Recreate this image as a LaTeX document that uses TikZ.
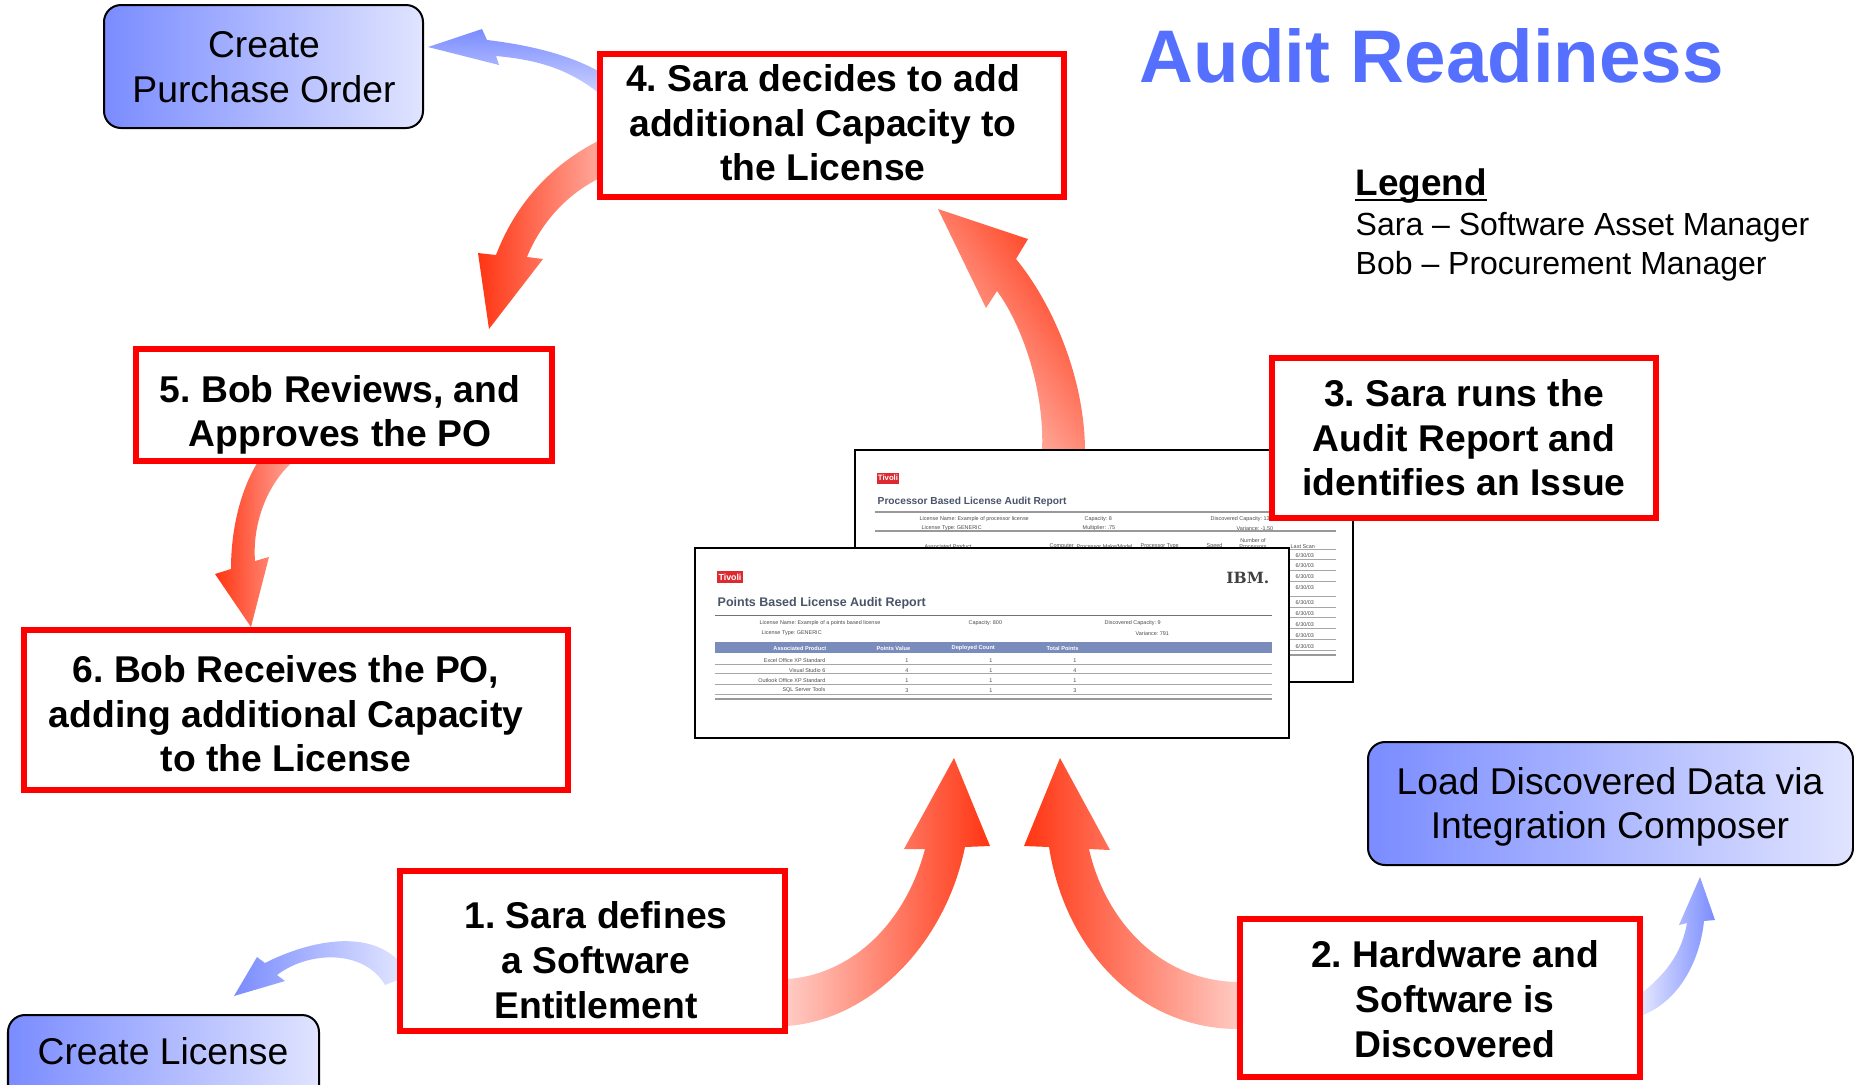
\documentclass[tikz,border=0pt]{standalone}
\usepackage{fontspec}
\setmainfont{Liberation Sans}
\newfontfamily\ibmfont{DejaVu Serif}
\frenchspacing
\definecolor{redhot}{HTML}{FF3512}
\definecolor{redpale}{HTML}{FFA89C}
\definecolor{bluehot}{HTML}{7A8CFF}
\definecolor{bluepale}{HTML}{E0E4FF}
\definecolor{titleblue}{HTML}{5570FF}
\definecolor{reportink}{HTML}{4A5468}
\definecolor{reportbar}{HTML}{7A8CBC}
\definecolor{tivolired}{HTML}{DD2A30}
\tikzset{
	stepbox/.style={draw=red, fill=white, line width=0.55mm},
	steptext/.style={align=center, font=\fontsize{10.6}{12.7}\selectfont\bfseries},
	toolbox/.style={draw=black, line width=0.2mm, rounded corners=0.17cm, left color=bluehot, right color=bluepale},
	tooltext/.style={align=center, font=\fontsize{10.6}{12.7}\selectfont},
	reportbox/.style={draw=black, fill=white, line width=0.22mm},
	reportrule/.style={draw=black!35, line width=0.07mm},
	reportfat/.style={draw=black!40, line width=0.16mm},
	tiny/.style={inner sep=0pt, yshift=-0.015cm, text=black!70, font=\fontsize{1.55}{1.9}\selectfont},
	tinyhead/.style={inner sep=0pt, yshift=-0.015cm, text=white, font=\fontsize{1.6}{2}\selectfont\bfseries},
}

\begin{document}
\begin{tikzpicture}[x=0.01cm, y=-0.01cm]
		%%%%% START %%%%%
		\useasboundingbox (0, 0) rectangle (1854, 1084);
		
		%% side arrows (blue)
		\shade[bottom color=bluepale!80!bluehot, top color=bluehot] (428, 47) -- (482, 29) -- (487, 40) .. controls (530, 45) and (570, 55) .. (600, 72) -- (600, 94) .. controls (570, 70) and (540, 60) .. (496, 56) -- (499, 65) -- cycle;
		\shade[left color=bluepale, right color=bluehot] (1700, 877) -- (1715, 920) -- (1704, 921) .. controls (1700, 960) and (1680, 1000) .. (1643, 1015) -- (1643, 992) .. controls (1670, 970) and (1682, 950) .. (1687, 923) -- (1679, 925) -- cycle;
		\shade[left color=bluehot, right color=bluepale] (234, 996) -- (257, 957) -- (265, 963) .. controls (300, 945) and (365, 925) .. (400, 962) -- (400, 979) -- (385, 985) .. controls (365, 950) and (310, 950) .. (277, 975) -- (285, 981) -- cycle;
		
		%% main arrows (red)
		\shade[left color=redhot, right color=redpale] (489, 329) -- (478, 253) -- (496, 255) .. controls (515, 205) and (550, 165) .. (600, 140) -- (600, 178) .. controls (565, 195) and (540, 225) .. (527, 257) -- (543, 259) -- cycle;
		\shade[left color=redhot, right color=redpale] (251, 627) -- (215, 574) -- (231, 569) .. controls (231, 530) and (240, 490) .. (259, 460) -- (295, 460) .. controls (270, 480) and (252, 520) .. (255, 561) -- (269, 557) -- cycle;
		\shade[left color=redpale!55!white, right color=redhot, shading angle=125] (938, 209) -- (1028, 239) -- (1016, 259) .. controls (1050, 300) and (1085, 375) .. (1085, 452) -- (1042, 452) .. controls (1045, 390) and (1022, 325) .. (997, 291) -- (986, 308) -- cycle;
		\shade[left color=redpale!60!white, right color=redhot] (954, 758) -- (990, 846) -- (965, 847) .. controls (945, 945) and (870, 1020) .. (787, 1026) -- (787, 979) .. controls (850, 975) and (905, 925) .. (925, 849) -- (904, 849) -- cycle;
		\shade[left color=redhot, right color=redpale!60!white] (1060, 758) -- (1024, 846) -- (1049, 847) .. controls (1065, 950) and (1140, 1030) .. (1240, 1029) -- (1240, 982) .. controls (1160, 982) and (1105, 920) .. (1089, 849) -- (1110, 850) -- cycle;
		
		%% report at the back
		\draw[reportbox] (855, 450) rectangle (1353, 682);
		\node[fill=tivolired, text=white, inner sep=0pt, minimum width=0.22cm, minimum height=0.11cm, font=\fontsize{2.2}{3}\selectfont\bfseries] (tivoliback) at (888, 478) {Tivoli};
		\node[anchor=west, inner sep=0pt, text=reportink, font=\fontsize{2.9}{4}\selectfont\bfseries] (titleback) at (877, 502) {Processor Based License Audit Report};
		\draw[reportfat] (875, 512) -- (1336, 512);
		\node[tiny, anchor=west] (nameback) at (919, 518) {License Name: Example of processor license};
		\node[tiny, anchor=west] (capback) at (1084, 518) {Capacity: 8};
		\node[tiny, anchor=west] (discback) at (1210, 518) {Discovered Capacity: 13.5};
		\node[tiny, anchor=west] (typeback) at (921, 527) {License Type: GENERIC};
		\node[tiny, anchor=west] (multback) at (1082, 527) {Multiplier: .75};
		\node[tiny, anchor=west] (varback) at (1236, 527) {Variance: -1.50};
		\draw[reportfat] (875, 531) -- (1336, 531);
		\node[tiny, anchor=west] (prodback) at (924, 545) {Associated Product};
		\node[tiny, anchor=west] (compback) at (1049, 545) {Computer};
		\node[tiny, anchor=west] (makeback) at (1076, 545) {Processor Make/Model};
		\node[tiny, anchor=west] (procback) at (1140, 545) {Processor Type};
		\node[tiny, anchor=west] (speedback) at (1206, 545) {Speed};
		\node[tiny, align=center] (numback) at (1253, 542) {Number of\\Processors};
		\node[tiny, anchor=west] (scanback) at (1290, 545) {Last Scan};
		\draw[reportrule] (1289, 549) -- (1336, 549);
		\node[tiny, anchor=west] (datea) at (1295, 554) {6/30/03};
		\draw[reportrule] (1289, 559) -- (1336, 559);
		\node[tiny, anchor=west] (dateb) at (1295, 564) {6/30/03};
		\draw[reportrule] (1289, 570) -- (1336, 570);
		\node[tiny, anchor=west] (datec) at (1295, 575) {6/30/03};
		\draw[reportrule] (1289, 581) -- (1336, 581);
		\node[tiny, anchor=west] (dated) at (1295, 586) {6/30/03};
		\draw[reportrule] (1289, 596) -- (1336, 596);
		\node[tiny, anchor=west] (datee) at (1295, 601) {6/30/03};
		\draw[reportrule] (1289, 607) -- (1336, 607);
		\node[tiny, anchor=west] (datef) at (1295, 612) {6/30/03};
		\draw[reportrule] (1289, 617) -- (1336, 617);
		\node[tiny, anchor=west] (dateg) at (1295, 623) {6/30/03};
		\draw[reportrule] (1289, 628) -- (1336, 628);
		\node[tiny, anchor=west] (dateh) at (1295, 634) {6/30/03};
		\draw[reportrule] (1289, 639) -- (1336, 639);
		\node[tiny, anchor=west] (datei) at (1295, 645) {6/30/03};
		\draw[reportrule] (1289, 650) -- (1336, 650);
		\draw[reportfat] (1289, 655) -- (1336, 655);
		
		%% report at the front
		\draw[reportbox] (695, 548) rectangle (1289, 738);
		\node[fill=tivolired, text=white, inner sep=0pt, minimum width=0.26cm, minimum height=0.12cm, font=\fontsize{2.5}{3}\selectfont\bfseries] (tivolifront) at (730, 577) {Tivoli};
		\node[anchor=east, inner sep=0pt, text=black!75, font=\fontsize{4.4}{5}\ibmfont\bfseries] (ibm) at (1270, 578) {IBM.};
		\node[anchor=west, inner sep=0pt, text=reportink, font=\fontsize{3.55}{4}\selectfont\bfseries] (titlefront) at (717, 603) {Points Based License Audit Report};
		\draw[black!55, line width=0.1mm] (715, 615) -- (1272, 615);
		\node[tiny, anchor=west] (namefront) at (759, 622) {License Name: Example of a points based license};
		\node[tiny, anchor=west] (capfront) at (968, 622) {Capacity: 800};
		\node[tiny, anchor=west] (discfront) at (1104, 622) {Discovered Capacity: 9};
		\node[tiny, anchor=west] (typefront) at (761, 632) {License Type: GENERIC};
		\node[tiny, anchor=west] (varfront) at (1135, 632) {Variance: 791};
		\fill[reportbar] (715, 642) rectangle (1272, 653);
		\node[tinyhead, anchor=east] (prodfront) at (827, 647) {Associated Product};
		\node[tinyhead, anchor=west] (valuefront) at (876, 647) {Points Value};
		\node[tinyhead, anchor=west] (countfront) at (951, 647) {Deployed Count};
		\node[tinyhead, anchor=west] (totalfront) at (1046, 647) {Total Points};
		
		\node[tiny, anchor=east] (proda) at (826, 659) {Excel Office XP Standard};
		\node[tiny] (valuea) at (907, 659) {1};
		\node[tiny] (counta) at (991, 659) {1};
		\node[tiny] (totala) at (1075, 659) {1};
		\draw[reportrule] (715, 664) -- (1272, 664);
		\node[tiny, anchor=east] (prodb) at (826, 669) {Visual Studio 6};
		\node[tiny] (valueb) at (907, 669) {4};
		\node[tiny] (countb) at (991, 669) {1};
		\node[tiny] (totalb) at (1075, 669) {4};
		\draw[reportrule] (715, 673) -- (1272, 673);
		\node[tiny, anchor=east] (prodc) at (826, 679) {Outlook Office XP Standard};
		\node[tiny] (valuec) at (907, 679) {1};
		\node[tiny] (countc) at (991, 679) {1};
		\node[tiny] (totalc) at (1075, 679) {1};
		\draw[reportrule] (715, 684) -- (1272, 684);
		\node[tiny, anchor=east] (prodd) at (826, 689) {SQL Server Tools};
		\node[tiny] (valued) at (907, 689) {3};
		\node[tiny] (countd) at (991, 689) {1};
		\node[tiny] (totald) at (1075, 689) {3};
		\draw[reportrule] (715, 694) -- (1272, 694);
		\draw[reportfat] (715, 699) -- (1272, 699);
		
		%% red steps
		\draw[stepbox] (600, 54) rectangle (1064, 197);
		\node[steptext] (sarafour) at (823, 123) {4. Sara decides to add\\additional Capacity to\\the License};
		\draw[stepbox] (136, 349) rectangle (552, 461);
		\node[steptext] (bobfive) at (340, 415) {5. Bob Reviews, and\\Approves the PO};
		\draw[stepbox] (24, 630) rectangle (568, 790);
		\node[steptext] (bobsix) at (286, 714) {6. Bob Receives the PO,\\adding additional Capacity\\to the License};
		\draw[stepbox] (400, 871) rectangle (785, 1031);
		\node[steptext] (saraone) at (596, 960) {1. Sara defines\\a Software\\Entitlement};
		\draw[stepbox] (1240, 919) rectangle (1640, 1077);
		\node[steptext] (hardware) at (1455, 999) {2. Hardware and\\Software is\\Discovered};
		\draw[stepbox] (1272, 358) rectangle (1656, 518);
		\node[steptext] (sarathree) at (1464, 438) {3. Sara runs the\\Audit Report and\\identifies an Issue};
		
		%% blue tools
		\draw[toolbox] (104, 5) rectangle (423, 128);
		\node[tooltext] (purchase) at (264, 67) {Create\\Purchase Order};
		\draw[toolbox] (1368, 742) rectangle (1853, 865);
		\node[tooltext] (loaddata) at (1610, 807) {Load Discovered Data via\\Integration Composer};
		\draw[toolbox] (8, 1015) rectangle (319, 1110);
		\node[tooltext] (license) at (163, 1051) {Create License};
		
		%% title and legend
		\node[anchor=base west, inner sep=0pt, text=titleblue, font=\fontsize{21.2}{24}\selectfont\bfseries] (title) at (1139, 82) {Audit Readiness};
		\node[anchor=base west, inner sep=0pt, font=\fontsize{10.5}{12}\selectfont\bfseries] (legend) at (1355, 195) {Legend};
		\draw[line width=0.17mm] (1355, 200) -- (1487, 200);
		\node[anchor=base west, inner sep=0pt, font=\fontsize{9.1}{11}\selectfont] (legendsara) at (1355, 235) {Sara – Software Asset Manager};
		\node[anchor=base west, inner sep=0pt, font=\fontsize{9.1}{11}\selectfont] (legendbob) at (1355, 274) {Bob – Procurement Manager};
		
		%%%%% END %%%%%
	\end{tikzpicture}
\end{document}
